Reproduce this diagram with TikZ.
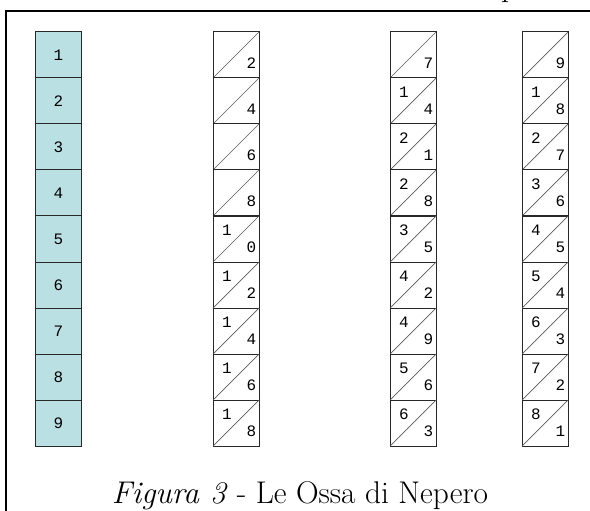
\documentclass[tikz,border=0pt]{standalone}
\usepackage{fontspec}
\newfontfamily\digitfont{Liberation Mono}
\definecolor{bonefill}{RGB}{187,224,228}
\definecolor{cellline}{RGB}{40,40,40}
\definecolor{diagline}{RGB}{90,90,90}
\begin{document}
\begin{tikzpicture}[x=1bp,y=-1bp,
  cellbox/.style={draw=cellline,line width=1bp,minimum width=46bp,minimum height=46bp,inner sep=0pt,outer sep=0pt},
  indexbox/.style={cellbox,fill=bonefill},
  digit/.style={font=\digitfont\fontsize{16}{18}\selectfont,inner sep=0pt},
  captionfont/.style={font=\fontsize{31.5}{36}\selectfont,inner sep=0pt},
  diag/.style={draw=diagline,line width=0.7bp},
  frameline/.style={line width=2.4bp}]
\useasboundingbox (0,0) rectangle (590,511);
% frame
\coordinate (fbl) at (6,520);
\coordinate (ftl) at (6,11);
\coordinate (ftr) at (600,11);
\draw[frameline] (fbl) -- (ftl) -- (ftr);
% cut-off letter above the frame
\node[captionfont,anchor=base west] (ptop) at (501,-3.5) {p};
% index column
\foreach \i in {1,...,9}{
  \node[indexbox,font=\digitfont\fontsize{16}{18}\selectfont] (a\i) at (58.5,{32+23+46*(\i-1)}) {\i};
}
% bones
\foreach \col/\cx/\list in {b/236/{{}/2,{}/4,{}/6,{}/8,1/0,1/2,1/4,1/6,1/8},
                            c/413/{{}/7,1/4,2/1,2/8,3/5,4/2,4/9,5/6,6/3},
                            d/545/{{}/9,1/8,2/7,3/6,4/5,5/4,6/3,7/2,8/1}}{
  \foreach \t/\u [count=\k] in \list {
    \node[cellbox] (\col\k) at (\cx,{32+23+46*(\k-1)}) {};
    \draw[diag] (\col\k.south west) -- (\col\k.north east);
    \node[digit] (\col\k t) at ([xshift=14bp,yshift=-14bp]\col\k.north west) {\t};
    \node[digit] (\col\k u) at ([xshift=-7.5bp,yshift=15bp]\col\k.south east) {\u};
  }
}
% caption
\node[captionfont,anchor=base] (cap) at (300,503) {\textit{Figura 3} - Le Ossa di Nepero};
\end{tikzpicture}
\end{document}
